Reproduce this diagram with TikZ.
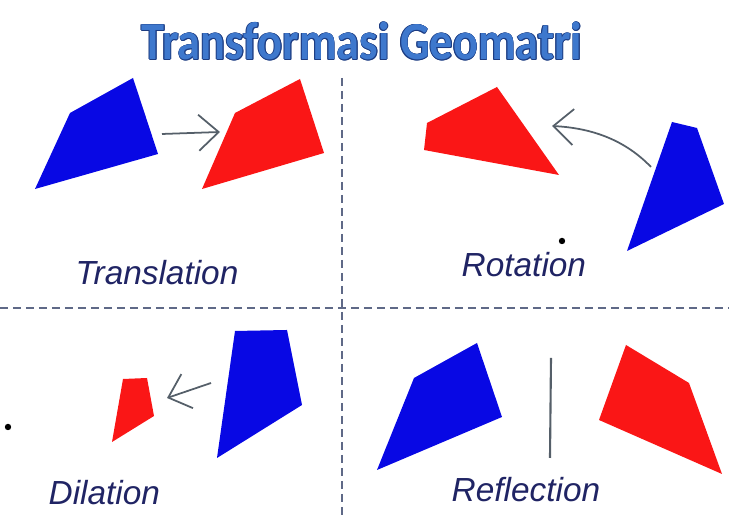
\documentclass[tikz,border=0pt]{standalone}
\usepackage{fontspec}
\setsansfont{Liberation Sans}
\newfontfamily\titlefont{Carlito}
\usetikzlibrary{arrows.meta}

\definecolor{shapeblue}{RGB}{8,8,228}
\definecolor{shapered}{RGB}{250,22,22}
\definecolor{labelnavy}{RGB}{32,36,100}
\definecolor{titleblue}{RGB}{62,120,205}
\definecolor{titleedge}{RGB}{28,60,130}
\definecolor{arrowgray}{RGB}{85,95,105}
\definecolor{dividergray}{RGB}{95,105,135}

\newcommand{\titletext}{\scalebox{1}[1.15]{Transformasi Geomatri}}

\begin{document}
\begin{tikzpicture}[x=0.1mm,y=-0.1mm,
    orig/.style={fill=shapeblue},
    image/.style={fill=shapered},
    move/.style={draw=arrowgray, line width=0.5pt, -{Straight Barb[length=2mm,width=3.6mm]}},
    divider/.style={draw=dividergray, line width=0.6pt, dash pattern=on 0.8mm off 0.5mm},
    heading/.style={anchor=base, inner sep=0pt, font=\fontsize{13.2}{15}\titlefont\bfseries},
    caption/.style={font=\fontsize{9.5}{11}\sffamily\itshape, text=labelnavy, anchor=base west, inner sep=0pt}]

\useasboundingbox (0,0) rectangle (729,520);

% title with a dark rim
\foreach \dx/\dy [count=\k] in {0.8/0,-0.8/0,0/0.8,0/-0.8,0.55/0.55,-0.55/0.55,0.55/-0.55,-0.55/-0.55}
    \node (rim\k) [heading, text=titleedge] at (362+\dx,60+\dy) {\titletext};
\node (title) [heading, text=titleblue] at (362,60) {\titletext};

% panel dividers
\coordinate (vtop) at (342,78);
\coordinate (vbot) at (342,520);
\coordinate (hleft) at (0,308);
\coordinate (hright) at (729,308);
\draw[divider] (vtop) -- (vbot);
\draw[divider] (hleft) -- (hright);

% translation
\fill[orig] (35,189) -- (70,113) -- (133,78) -- (158,154) -- cycle;
\fill[image] (202,189) -- (235,113) -- (300,79) -- (324,153) -- cycle;
\coordinate (tfrom) at (162,134);
\coordinate (tto) at (220,132);
\draw[move] (tfrom) -- (tto);
\node (translation) [caption] at (75,285) {Translation};

% rotation
\fill[image] (427,123) -- (497,87) -- (559,175) -- (424,150) -- cycle;
\fill[orig] (672,122) -- (697,128) -- (724,204) -- (627,251) -- cycle;
\coordinate (rfrom) at (651,167);
\coordinate (rto) at (552,126);
\draw[move] (rfrom) .. controls (625,140) and (592,128) .. (rto);
\coordinate (rcentre) at (562,241);
\fill (rcentre) circle (3.2);
\node (rotation) [caption] at (461,277) {Rotation};

% dilation
\fill[image] (123,379) -- (147,378) -- (154,416) -- (112,442) -- cycle;
\fill[orig] (235,331) -- (287,330) -- (302,405) -- (217,458) -- cycle;
\coordinate (dfrom) at (211,383);
\coordinate (dto) at (167,398);
\draw[move] (dfrom) -- (dto);
\coordinate (dcentre) at (8,427);
\fill (dcentre) circle (3.2);
\node (dilation) [caption] at (48,505) {Dilation};

% reflection
\fill[orig] (377,470) -- (414,378) -- (477,343) -- (502,417) -- cycle;
\fill[image] (626,345) -- (689,383) -- (722,474) -- (599,420) -- cycle;
\coordinate (mtop) at (551,358);
\coordinate (mbot) at (550,458);
\draw[arrowgray, line width=0.6pt] (mtop) -- (mbot);
\node (reflection) [caption] at (451,502) {Reflection};

\end{tikzpicture}
\end{document}
